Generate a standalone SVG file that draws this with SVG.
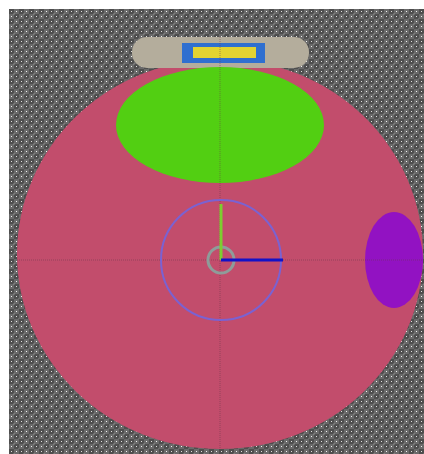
<svg xmlns="http://www.w3.org/2000/svg" width="424" height="454" viewBox="0 0 424 454">
  <defs>
    <pattern id="floor" x="9" y="9" width="10" height="10" patternUnits="userSpaceOnUse">
      <rect width="10" height="10" fill="#6a6a6a"/>
      <rect x="0" y="0" width="5" height="5" fill="#4e4e4e"/>
      <rect x="5" y="5" width="5" height="5" fill="#4e4e4e"/>
      <rect x="2" y="2" width="1" height="1" fill="#e0e0e0"/>
      <rect x="7" y="2" width="1" height="1" fill="#f2f2f2"/>
      <rect x="2" y="7" width="1" height="1" fill="#f2f2f2"/>
      <rect x="7" y="7" width="1" height="1" fill="#e0e0e0"/>
      <rect x="4.5" y="4.5" width="1" height="1" fill="#bdbdbd"/>
      <rect x="9.5" y="9.5" width="1" height="1" fill="#bdbdbd"/>
    </pattern>
    <style>
      .axis { stroke: #6a3a4a; stroke-width: 1; stroke-dasharray: 1 1; fill: none; opacity: 0.5; }
    </style>
  </defs>
  <rect x="0" y="0" width="424" height="454" fill="#ffffff"/>
  <rect x="9" y="9" width="415" height="445" fill="url(#floor)"/>
  <g id="body">
    <ellipse cx="220" cy="254" rx="203" ry="195" fill="#c24d6c"/>
  </g>
  <g id="top-plate">
    <rect x="132" y="37" width="177" height="31" rx="15" ry="15" fill="#b4ad9c"/>
    <rect x="182" y="43" width="83" height="20" fill="#2f6fd0"/>
    <rect x="193" y="47" width="63" height="11" fill="#e2d332"/>
  </g>
  <g id="green-zone">
    <ellipse cx="220" cy="125" rx="104" ry="58" fill="#52cf12"/>
  </g>
  <g id="purple-zone">
    <ellipse cx="394" cy="260" rx="29" ry="48" fill="#9212c2"/>
  </g>
  <g id="axes">
    <line class="axis" x1="220" y1="37" x2="220" y2="449"/>
    <line class="axis" x1="17" y1="260" x2="422" y2="260"/>
  </g>
  <g id="center">
    <circle cx="221" cy="260" r="60" fill="none" stroke="#7a62d2" stroke-width="2"/>
    <circle cx="221" cy="260" r="13" fill="none" stroke="#8e9c9a" stroke-width="3"/>
    <line x1="221" y1="204" x2="221" y2="260" stroke="#7ccf2f" stroke-width="3"/>
    <line x1="221" y1="260" x2="283" y2="260" stroke="#1212c8" stroke-width="3"/>
  </g>
</svg>
